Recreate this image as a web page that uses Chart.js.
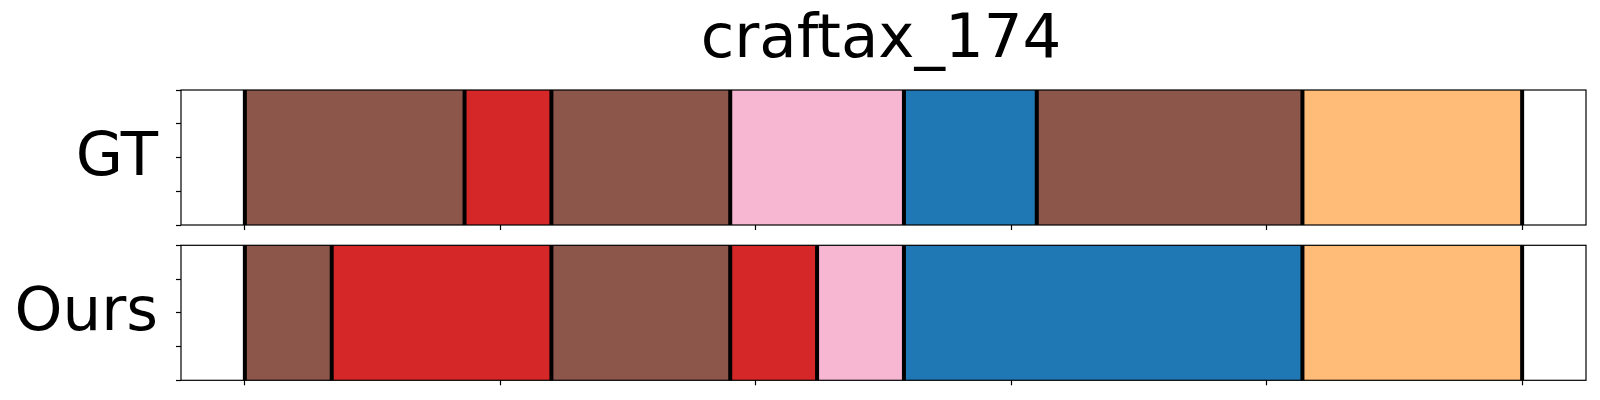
<!DOCTYPE html>
<html>
<head>
<meta charset="utf-8">
<script src="https://cdn.jsdelivr.net/npm/chart.js@4/dist/chart.umd.min.js"></script>
<style>
	body { margin: 0; background: #fff; }
	#wrap { position: relative; width: 1600px; height: 400px; }
	canvas { position: absolute; left: 0; }
	#gtChart { top: 0; }
	#oursChart { top: 240px; }
</style>
</head>
<body>
<div id="wrap">
	<canvas id="gtChart" width="1600" height="240"></canvas>
	<canvas id="oursChart" width="1600" height="160"></canvas>
</div>
<script>
// Episode title and row names
const title = 'craftax_174';
const rowNames = ['GT', 'Ours'];

// Segment boundaries (timesteps) and the class of each segment
const gtBounds = [0, 43, 60, 95, 129, 155, 207, 250];
const gtClasses = ['brown', 'red', 'brown', 'pink', 'blue', 'brown', 'orange'];

const oursBounds = [0, 17, 60, 95, 112, 129, 207, 250];
const oursClasses = ['brown', 'red', 'brown', 'red', 'pink', 'blue', 'orange'];

// Axis ticks
const xTicks = [0, 50, 100, 150, 200, 250];
const yTicks = [0, 0.25, 0.5, 0.75, 1];

// Class colours (tab10 / tab20)
const classColors = {
	brown: '#8c564b',
	red: '#d62728',
	pink: '#f7b6d2',
	blue: '#1f77b4',
	orange: '#ffbb78',
};

const FONT = 'DejaVu Sans';
const FONT_SIZE = 61;

// Black boundary lines, the frame and the row name
const segmentPlugin = {
	id: 'segments',
	afterDatasetsDraw(chart, args, opts) {
		let ctx = chart.ctx;
		let area = chart.chartArea;
		let x = chart.scales.x;
		ctx.save();
		ctx.strokeStyle = '#000';
		ctx.lineWidth = 4;
		for (let b of opts.bounds) {
			let px = x.getPixelForValue(b);
			ctx.beginPath();
			ctx.moveTo(px, area.top);
			ctx.lineTo(px, area.bottom);
			ctx.stroke();
		}
		ctx.lineWidth = 1.2;
		ctx.strokeRect(area.left, area.top, area.right - area.left, area.bottom - area.top);

		ctx.fillStyle = '#000';
		ctx.font = `${FONT_SIZE}px "${FONT}"`;
		ctx.textAlign = 'right';
		ctx.textBaseline = 'alphabetic';
		ctx.fillText(opts.name, area.left - 23, (area.top + area.bottom) / 2 + 17);
		ctx.restore();
	}
};

function makeChart(id, name, bounds, classes, extra) {
	let data = classes.map((c, i) => ({ x: [bounds[i], bounds[i + 1]], y: name }));

	return new Chart(document.getElementById(id), {
		type: 'bar',
		data: {
			labels: [name],
			datasets: [{
				data: data,
				backgroundColor: classes.map(c => classColors[c]),
				borderWidth: 0,
				barPercentage: 1,
				categoryPercentage: 1,
			}]
		},
		plugins: [segmentPlugin],
		options: {
			responsive: false,
			animation: false,
			indexAxis: 'y',
			layout: { padding: { left: 176, right: 14, top: extra.padTop, bottom: 0 } },
			plugins: {
				legend: { display: false },
				tooltip: { enabled: false },
				title: extra.title,
				segments: { bounds: bounds, name: name },
			},
			scales: {
				x: {
					type: 'linear',
					min: -12.5,
					max: 262.5,
					offset: false,
					afterBuildTicks: s => { s.ticks = xTicks.map(v => ({ value: v })); },
					afterFit: s => { s.height = extra.xHeight; },
					ticks: { display: false },
					border: { display: false },
					grid: {
						offset: false,
						drawOnChartArea: false,
						drawTicks: true,
						tickLength: 5,
						tickColor: '#000',
						tickWidth: 1.2,
					},
				},
				y: { display: false },
				// tick marks only, 0..1 like the plotting library default
				yt: {
					type: 'linear',
					position: 'left',
					min: 0,
					max: 1,
					offset: false,
					afterBuildTicks: s => { s.ticks = yTicks.map(v => ({ value: v })); },
					afterFit: s => { s.width = 5; },
					ticks: { display: false },
					border: { display: false },
					grid: {
						offset: false,
						drawOnChartArea: false,
						drawTicks: true,
						tickLength: 5,
						tickColor: '#000',
						tickWidth: 1.2,
					},
				},
			}
		}
	});
}

makeChart('gtChart', rowNames[0], gtBounds, gtClasses, {
	padTop: 0,
	xHeight: 15,
	title: {
		display: true,
		text: title,
		color: '#000',
		font: { family: FONT, size: FONT_SIZE, weight: 'normal', lineHeight: 1.2 },
		padding: { top: 5, bottom: 11.8 },
	},
});

makeChart('oursChart', rowNames[1], oursBounds, oursClasses, {
	padTop: 5.3,
	xHeight: 19.7,
	title: { display: false },
});
</script>
</body>
</html>
